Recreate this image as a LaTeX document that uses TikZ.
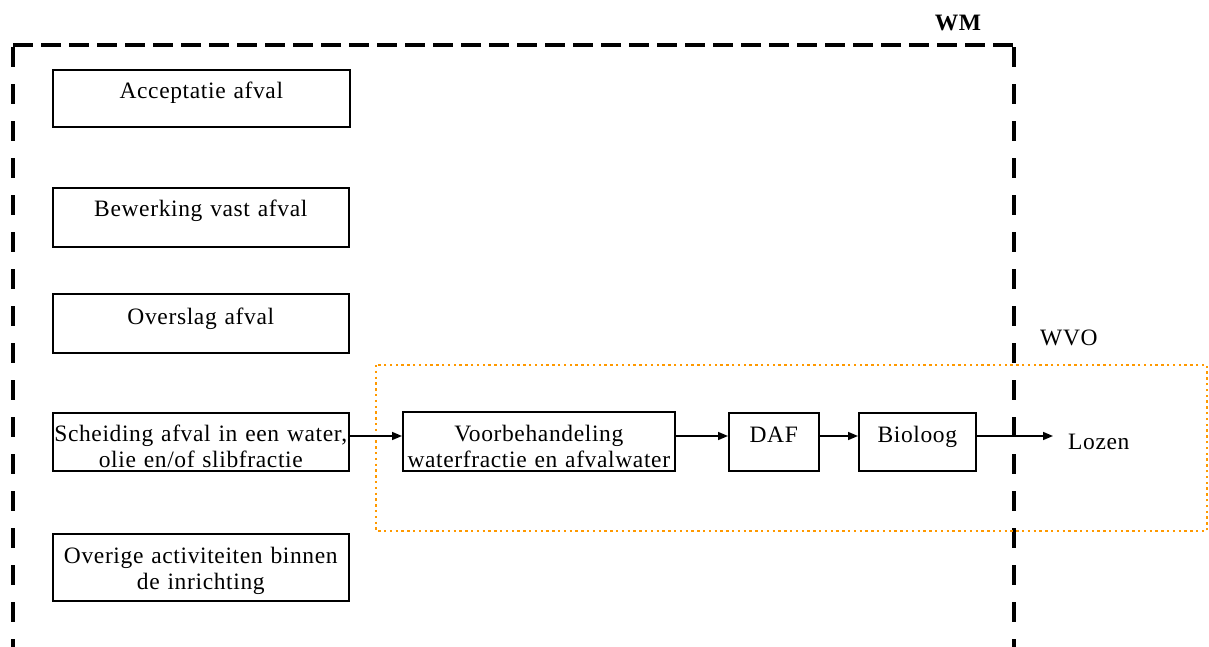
\documentclass[tikz,border=0pt]{standalone}
\usepackage{fontspec}
\setmainfont{Liberation Serif}[LetterSpace=2.7]
\usetikzlibrary{arrows.meta}
\definecolor{wvoorange}{RGB}{255,153,0}
\tikzset{
  procbox/.style={draw, line width=1.6pt, inner xsep=0pt, inner ysep=0pt, align=center, anchor=north west, font=\fontsize{23.5}{26}\selectfont},
  flow/.style={line width=1.5pt, -{Triangle[length=10pt,width=8pt]}},
  lbl/.style={font=\fontsize{23.5}{26}\selectfont, inner sep=0pt}
}
\begin{document}
\begin{tikzpicture}[x=1pt,y=-1pt]
\useasboundingbox (0,0) rectangle (1209,647);
% WM dashed boundary (open at bottom)
\coordinate (wmtl) at (13,45);
\coordinate (wmtr) at (1014,45);
\coordinate (wmbl) at (13,660);
\coordinate (wmbr) at (1014,660);
\draw[line width=4.5pt, dash pattern=on 20pt off 8pt] (wmtl) -- (wmtr);
\draw[line width=4.5pt, dash pattern=on 20pt off 17pt] ([yshift=-2.25pt]wmtl) -- (wmbl);
\draw[line width=4.5pt, dash pattern=on 20pt off 17pt] ([yshift=-2.25pt]wmtr) -- (wmbr);
\node[lbl, font=\fontsize{23.5}{26}\selectfont\bfseries, anchor=base] (wm) at (958,31) {WM};
% WVO dotted boundary
\draw[wvoorange, line width=2.2pt, dash pattern=on 2.4pt off 3.4pt] (376,365) rectangle (1207,531);
\node[lbl, anchor=base west] (wvo) at (1040,345) {WVO};
% left column boxes
\node[procbox, text width=297pt, text height=29pt, text depth=28pt] (acc) at (52,69) {Acceptatie afval};
\node[procbox, text width=296pt, text height=29pt, text depth=30pt] (bew) at (52,187) {Bewerking vast afval};
\node[procbox, text width=296pt, text height=31pt, text depth=28pt] (ovs) at (52,293) {Overslag afval};
\node[procbox, text width=296pt, text height=29pt, text depth=29pt] (sch) at (52,412) {Scheiding afval in een water,\\olie en/of slibfractie};
\node[procbox, text width=296pt, text height=30pt, text depth=37pt] (ovr) at (52,533) {Overige activiteiten binnen\\de inrichting};
% process chain
\node[procbox, text width=272pt, text height=30pt, text depth=29pt] (voor) at (402,411) {Voorbehandeling\\waterfractie en afvalwater};
\node[procbox, text width=90pt, text height=30pt, text depth=28pt] (daf) at (728,412) {DAF};
\node[procbox, text width=117pt, text height=30pt, text depth=28pt] (bio) at (858,412) {Bioloog};
\coordinate (lozend) at (1053,436);
\node[lbl, anchor=base west] (lozen) at (1068,449) {Lozen};
% connectors
\draw[flow] (sch.east |- 0,436) -- (voor.west |- 0,436);
\draw[flow] (voor.east |- 0,436) -- (daf.west |- 0,436);
\draw[flow] (daf.east |- 0,436) -- (bio.west |- 0,436);
\draw[flow] (bio.east |- 0,436) -- (lozend);
\end{tikzpicture}
\end{document}
